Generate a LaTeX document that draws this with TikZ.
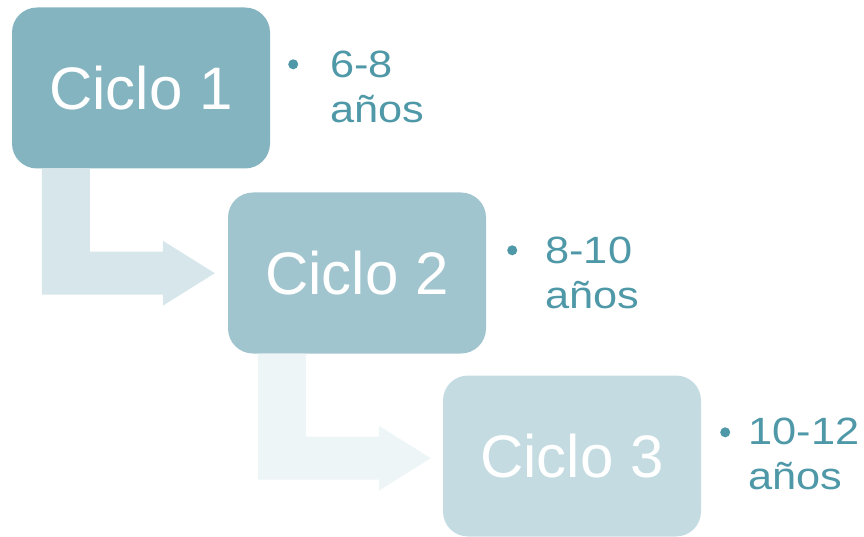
\documentclass[tikz,border=0pt]{standalone}
\usepackage{fontspec}
\setmainfont{Liberation Sans}
\newfontfamily\edadfont[FakeStretch=1.14]{Liberation Sans}
\usetikzlibrary{calc}

\definecolor{cicloA}{HTML}{84B4C0}
\definecolor{cicloB}{HTML}{A1C5CE}
\definecolor{cicloC}{HTML}{C3DBE1}
\definecolor{flechaA}{HTML}{D6E6EB}
\definecolor{flechaB}{HTML}{EEF5F7}
\definecolor{textoEdad}{HTML}{4E98A7}

\tikzset{
  ciclo/.style={rounded corners=25pt, minimum width=258pt, minimum height=161pt,
    inner sep=0pt, text=white, font=\fontsize{60}{70}\selectfont},
  % el ancla base de un nodo de dos lineas cae en la segunda linea
  edad/.style={anchor=base west, align=left, inner sep=0pt, text=textoEdad,
    font=\edadfont\fontsize{38}{45}\selectfont},
  punto/.style={circle, fill=textoEdad, inner sep=0pt, minimum size=10pt},
}

\begin{document}
\begin{tikzpicture}[x=1pt, y=-1pt]
            % Marco fijo del dibujo
            \useasboundingbox (0,0) rectangle (864,537);

            % --- CAJAS DE LOS CICLOS ---
            \node[ciclo, fill=cicloA] (c1) at (141,88) {Ciclo 1};
            \node[ciclo, fill=cicloB] (c2) at (357,273) {Ciclo 2};
            \node[ciclo, fill=cicloC] (c3) at (572,456) {Ciclo 3};

            % --- FLECHAS EN ESCUADRA ---
            \fill[flechaA] ($(c1.south west)+(30,0)$) -- ++(48,0) -- ++(0,83)
              -- ++(73,0) -- ++(0,-11) -- ++(52,32.5) -- ++(-52,32.5)
              -- ++(0,-11) -- ++(-121,0) -- cycle;
            \fill[flechaB] ($(c2.south west)+(30,0)$) -- ++(48,0) -- ++(0,83)
              -- ++(73,0) -- ++(0,-11) -- ++(52,32.5) -- ++(-52,32.5)
              -- ++(0,-11) -- ++(-121,0) -- cycle;

            % --- EDADES ---
            \node[punto] (p1) at ($(c1.north east)+(23,57)$) {};
            \node[edad] (e1) at ($(c1.north east)+(60,115)$) {6-8\\años};
            \node[punto] (p2) at ($(c2.north east)+(26,58)$) {};
            \node[edad] (e2) at ($(c2.north east)+(59,116)$) {8-10\\años};
            \node[punto] (p3) at ($(c3.north east)+(24,57)$) {};
            \node[edad] (e3) at ($(c3.north east)+(47,114)$) {10-12\\años};

\end{tikzpicture}
\end{document}
